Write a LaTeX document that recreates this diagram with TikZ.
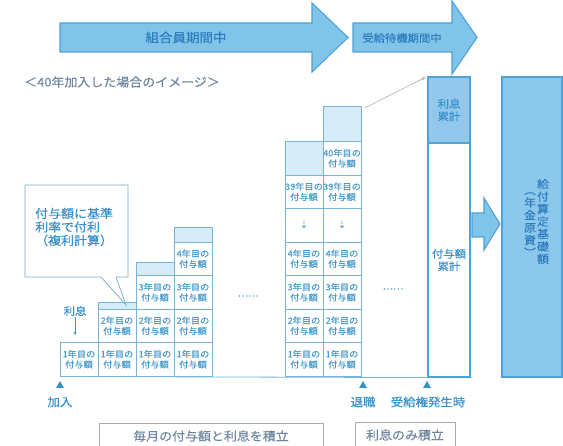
\documentclass[tikz,border=0pt]{standalone}
\usepackage{fontspec}
\setmainfont{Noto Sans CJK JP}[FakeStretch=1.08,FakeBold=0.35]
\newfontfamily\symf{DejaVu Sans}
\usetikzlibrary{arrows.meta}
\definecolor{arrowfill}{RGB}{128,196,234}
\definecolor{arrowline}{RGB}{78,160,212}
\definecolor{arrowtext}{RGB}{45,125,190}
\definecolor{textblue}{RGB}{55,145,202}
\definecolor{cellline}{RGB}{120,180,216}
\definecolor{celltext}{RGB}{70,155,206}
\definecolor{capfill}{RGB}{214,236,248}
\definecolor{barline}{RGB}{82,162,214}
\definecolor{barfill}{RGB}{145,200,236}
\definecolor{bigfill}{RGB}{140,199,236}
\definecolor{graytext}{RGB}{110,135,160}
\definecolor{boxline}{RGB}{165,172,180}
\begin{document}
\begin{tikzpicture}[x=1pt,y=-1pt,
  cell/.style={draw=cellline, line width=0.6pt, fill=white, minimum width=38pt,
    minimum height=33.5pt, inner sep=0pt, align=center, text=celltext,
    font=\fontsize{8.5}{10.5}\selectfont},
  capcell/.style={draw=cellline, line width=0.6pt, fill=capfill, minimum width=38pt, inner sep=0pt},
  bigarrow/.style={draw=arrowline, line width=1.1pt, fill=arrowfill},
  bartop/.style={draw=barline, line width=1.2pt, minimum width=42pt, inner sep=0pt,
    align=center, text=textblue, font=\fontsize{10.5}{12.5}\selectfont},
  vtext/.style={align=center, text=arrowtext, inner sep=0pt, font=\fontsize{11}{12.5}\selectfont},
  marklabel/.style={text=textblue, font=\fontsize{11.5}{13}\selectfont, inner sep=0pt},
  bottombox/.style={draw=boxline, line width=0.8pt, fill=white, minimum height=26pt,
    text=graytext, font=\fontsize{12}{14}\selectfont},
  dotsnode/.style={text=celltext, font=\fontsize{9}{10}\selectfont, inner sep=0pt}
]
\clip (0,0) rectangle (563,446);
\fill[white] (0,0) rectangle (563,446);

% big period arrows
\draw[bigarrow] (60,23) -- (312,23) -- (312,3) -- (348,37.5) -- (312,72) -- (312,52) -- (60,52) -- cycle;
\node[text=arrowtext, font=\fontsize{12.5}{14}\selectfont] (memb) at (186,37.5) {組合員期間中};
\draw[bigarrow] (353,23) -- (452,23) -- (452,1) -- (477,37.5) -- (452,74) -- (452,52) -- (353,52) -- cycle;
\node[text=arrowtext, font=\fontsize{10.5}{12}\selectfont] (wait) at (402,38) {受給待機期間中};

% subtitle
\node[anchor=west, text=graytext, font=\fontsize{12}{14}\selectfont, inner sep=0pt] (sub) at (24,82) {＜40年加入した場合のイメージ＞};

% left stacks
\node[cell] (a1) at (79,359.25) {1年目の\\付与額};
\node[cell] (b1) at (117,359.25) {1年目の\\付与額};
\node[cell] (b2) at (117,325.75) {2年目の\\付与額};
\node[capcell, minimum height=7pt] (bc) at (117,305.5) {};
\node[cell] (c1) at (155,359.25) {1年目の\\付与額};
\node[cell] (c2) at (155,325.75) {2年目の\\付与額};
\node[cell] (c3) at (155,292.25) {3年目の\\付与額};
\node[capcell, minimum height=13.5pt] (cc) at (155,268.75) {};
\node[cell] (d1) at (193,359.25) {1年目の\\付与額};
\node[cell] (d2) at (193,325.75) {2年目の\\付与額};
\node[cell] (d3) at (193,292.25) {3年目の\\付与額};
\node[cell] (d4) at (193,258.75) {4年目の\\付与額};
\node[capcell, minimum height=15pt] (dc) at (193,234.5) {};

% right stacks
\node[cell] (e1) at (304,359.25) {1年目の\\付与額};
\node[cell] (e2) at (304,325.75) {2年目の\\付与額};
\node[cell] (e3) at (304,292.25) {3年目の\\付与額};
\node[cell] (e4) at (304,258.75) {4年目の\\付与額};
\node[cell, font=\symf\fontsize{10}{10}\selectfont] (e5) at (304,225.25) {⇣};
\node[cell] (e6) at (304,191.75) {39年目の\\付与額};
\node[capcell, minimum height=33.5pt] (ec) at (304,158.25) {};
\node[cell] (f1) at (342,359.25) {1年目の\\付与額};
\node[cell] (f2) at (342,325.75) {2年目の\\付与額};
\node[cell] (f3) at (342,292.25) {3年目の\\付与額};
\node[cell] (f4) at (342,258.75) {4年目の\\付与額};
\node[cell, font=\symf\fontsize{10}{10}\selectfont] (f5) at (342,225.25) {⇣};
\node[cell] (f6) at (342,191.75) {39年目の\\付与額};
\node[cell] (f7) at (342,158.25) {40年目の\\付与額};
\node[capcell, minimum height=35.5pt] (fc) at (342,123.75) {};

% dots
\node[dotsnode] (dl) at (248,296) {……};
\node[dotsnode] (dr) at (393,289) {……};

% callout
\draw[draw=cellline!80!gray, line width=0.7pt, fill=white]
  (25,185) -- (128,185) -- (128,277) -- (116,277) -- (126,305) -- (101,277) -- (25,277) -- cycle;
\node[anchor=west, align=left, text=textblue, inner sep=0pt,
  font=\fontsize{12}{13.5}\selectfont] (call) at (35,227) {付与額に基準\\利率で付利\\（複利計算）};

% interest label
\node[text=textblue, font=\fontsize{10.5}{12}\selectfont, inner sep=1pt] (rik) at (75,311) {利息};
\coordinate (rikend) at (75,335);
\draw[textblue, line width=0.6pt, -{Stealth[length=3pt,width=3pt]}] (rik.south) -- (rikend);

% accumulated bar
\node[bartop, fill=barfill, minimum height=66pt] (intr) at (449,110) {利息\\累計};
\node[bartop, fill=white, minimum height=234pt] (grant) at (449,260) {付与額\\累計};

% thin arrow to bar
\draw[gray!70, line width=0.5pt, -{Stealth[length=4pt,width=3pt]}]
  ([shift={(4,2)}]fc.north east) -- ([shift={(-2,1)}]intr.north west);

% fat arrow
\draw[bigarrow] (472,213) -- (484,213) -- (484,198) -- (500,224) -- (484,250) -- (484,237) -- (472,237) -- cycle;

% big box
\node[draw=barline, line width=1.2pt, fill=bigfill, minimum width=60pt, minimum height=300pt] (big) at (532,227) {};
\node[vtext] (v1) at (543,221.5) {給\\付\\算\\定\\基\\礎\\額};
\node[vtext] (v2) at (530,224.5) {︵\\年\\金\\原\\資\\︶};

% baseline
\coordinate (base0) at (60,376.5);
\draw[cellline, line width=0.8pt] (base0) -- (grant.south west);

% markers
\fill[textblue] (56,388) -- (64,388) -- (60,381) -- cycle;
\node[marklabel] (join) at (60,402) {加入};
\fill[textblue] (359,388) -- (367,388) -- (363,381) -- cycle;
\node[marklabel] (ret) at (363,402) {退職};
\fill[textblue] (423,388) -- (431,388) -- (427,381) -- cycle;
\node[marklabel] (right) at (428,402) {受給権発生時};

% bottom boxes
\node[bottombox, minimum width=224pt] (box1) at (211,436) {毎月の付与額と利息を積立};
\node[bottombox, minimum width=100pt] (box2) at (405,435) {利息のみ積立};
\end{tikzpicture}
\end{document}
